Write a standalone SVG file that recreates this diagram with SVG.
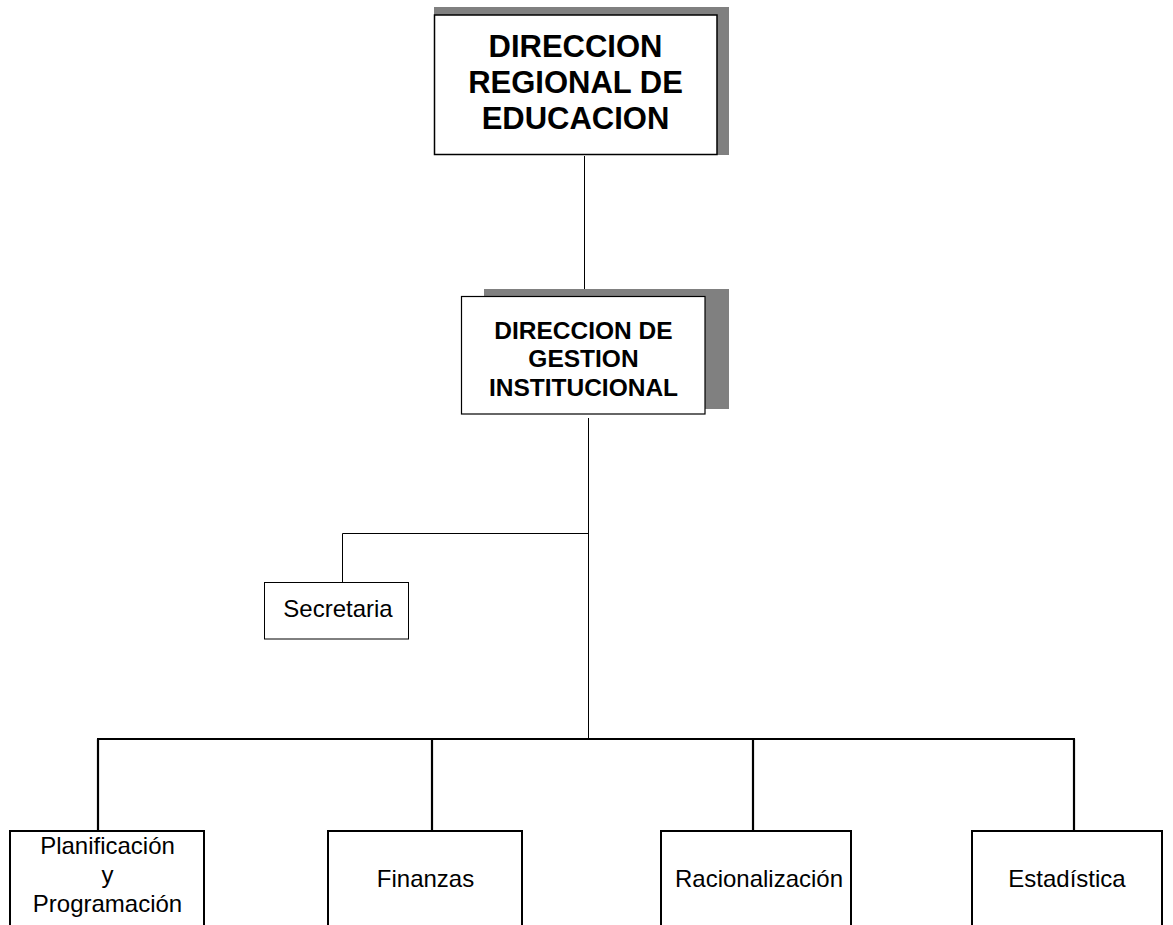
<svg xmlns="http://www.w3.org/2000/svg" width="1173" height="925" viewBox="0 0 1173 925">
<style>
  .box { fill: #ffffff; stroke: #000000; }
  .shadow { fill: #808080; stroke: none; }
  .thin { stroke: #000000; stroke-width: 1; fill: none; }
  .thick { stroke: #000000; stroke-width: 2.2; fill: none; }
  .bold { font-family: "Liberation Sans", Arial, sans-serif; font-weight: bold; fill: #000000; text-anchor: middle; }
  .reg { font-family: "Liberation Sans", Arial, sans-serif; fill: #000000; text-anchor: middle; font-size: 24px; }
</style>
<rect x="0" y="0" width="1173" height="925" fill="#ffffff"/>
<g id="connectors">
  <line class="thin" x1="584.5" y1="156" x2="584.5" y2="289"/>
  <line class="thin" x1="588.5" y1="418" x2="588.5" y2="739"/>
  <polyline class="thin" points="588.5,533.5 342.5,533.5 342.5,582"/>
  <line class="thick" x1="97" y1="739" x2="1075" y2="739"/>
  <line class="thick" x1="98" y1="739" x2="98" y2="831"/>
  <line class="thick" x1="432" y1="739" x2="432" y2="831"/>
  <line class="thick" x1="753" y1="739" x2="753" y2="831"/>
  <line class="thick" x1="1074" y1="739" x2="1074" y2="831"/>
</g>
<g id="node-direccion-regional">
  <rect class="shadow" x="434" y="7" width="295" height="148"/>
  <rect class="box" x="434.5" y="15" width="282.5" height="139.5" stroke-width="1.5"/>
  <text class="bold" font-size="31" x="575.5" y="57">DIRECCION</text>
  <text class="bold" font-size="31" x="575.5" y="93">REGIONAL DE</text>
  <text class="bold" font-size="31" x="575.5" y="129">EDUCACION</text>
</g>
<g id="node-direccion-gestion">
  <rect class="shadow" x="484" y="289" width="245" height="120"/>
  <rect class="box" x="461.5" y="296.5" width="243.5" height="117.5" stroke-width="1.2"/>
  <text class="bold" font-size="24.5" x="583.5" y="339">DIRECCION DE</text>
  <text class="bold" font-size="24.5" x="583.5" y="367">GESTION</text>
  <text class="bold" font-size="24.5" x="583.5" y="396">INSTITUCIONAL</text>
</g>
<g id="node-secretaria">
  <rect class="box" x="264.5" y="582.5" width="144" height="56.5" stroke-width="1"/>
  <text class="reg" x="338" y="617">Secretaria</text>
</g>
<g id="node-planificacion">
  <rect class="box" x="10" y="831" width="194" height="110" stroke-width="2"/>
  <text class="reg" x="107.5" y="854">Planificación</text>
  <text class="reg" x="107.5" y="883">y</text>
  <text class="reg" x="107.5" y="912">Programación</text>
</g>
<g id="node-finanzas">
  <rect class="box" x="328" y="831" width="194" height="110" stroke-width="2"/>
  <text class="reg" x="425.5" y="887">Finanzas</text>
</g>
<g id="node-racionalizacion">
  <rect class="box" x="661" y="831" width="190" height="110" stroke-width="2"/>
  <text class="reg" x="759" y="887">Racionalización</text>
</g>
<g id="node-estadistica">
  <rect class="box" x="972" y="831" width="190" height="110" stroke-width="2"/>
  <text class="reg" x="1067" y="887">Estadística</text>
</g>
</svg>
